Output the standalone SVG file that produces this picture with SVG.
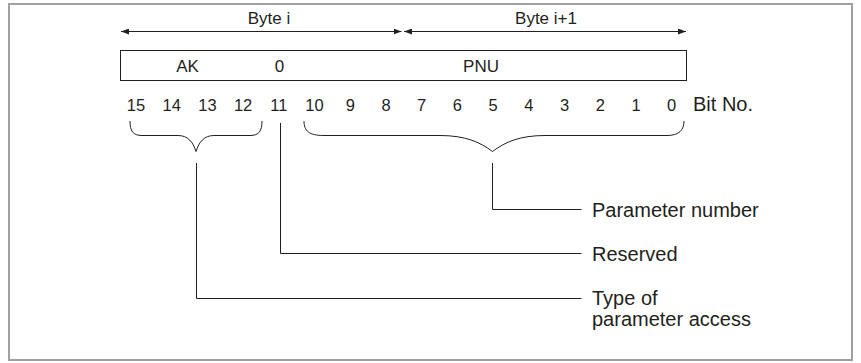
<svg xmlns="http://www.w3.org/2000/svg" width="861" height="363" viewBox="0 0 861 363">
  <style>
    .frame { fill: #ffffff; stroke: #a0a0a0; stroke-width: 2; }
    .box { fill: #ffffff; stroke: #231f20; stroke-width: 1; }
    .ln { fill: none; stroke: #231f20; stroke-width: 1; }
    .t { font-family: "Liberation Sans", Arial, sans-serif; fill: #231f20; }
    .hd { font-size: 17px; text-anchor: middle; }
    .sm { font-size: 16.5px; text-anchor: middle; }
    .lg { font-size: 20px; }
  </style>
  <defs>
    <marker id="arr" viewBox="0 0 8 6" refX="8" refY="3" markerWidth="8" markerHeight="6" markerUnits="userSpaceOnUse" orient="auto-start-reverse">
      <path d="M0,0 L8,3 L0,6 Z" fill="#231f20"/>
    </marker>
  </defs>

  <rect class="frame" x="9" y="4" width="843" height="356"/>

  <!-- byte spans -->
  <g id="byte-i">
    <line class="ln" x1="121" y1="31.5" x2="401.5" y2="31.5" marker-start="url(#arr)" marker-end="url(#arr)"/>
    <text class="t hd" x="269" y="24">Byte i</text>
  </g>
  <g id="byte-i1">
    <line class="ln" x1="404" y1="31.5" x2="686" y2="31.5" marker-start="url(#arr)" marker-end="url(#arr)"/>
    <text class="t hd" x="546" y="24">Byte i+1</text>
  </g>

  <!-- parameter word -->
  <g id="word">
    <rect class="box" x="120.5" y="50.5" width="566" height="30"/>
    <text class="t hd" x="187.5" y="71.5">AK</text>
    <text class="t hd" x="279.5" y="71.5">0</text>
    <text class="t hd" x="481" y="71.5">PNU</text>
  </g>

  <!-- bit numbers -->
  <g id="bits" class="t sm">
    <text x="136" y="111">15</text>
    <text x="171.7" y="111">14</text>
    <text x="207.4" y="111">13</text>
    <text x="243.1" y="111">12</text>
    <text x="278.8" y="111">11</text>
    <text x="314.5" y="111">10</text>
    <text x="350.3" y="111">9</text>
    <text x="386" y="111">8</text>
    <text x="421.7" y="111">7</text>
    <text x="457.4" y="111">6</text>
    <text x="493.1" y="111">5</text>
    <text x="528.8" y="111">4</text>
    <text x="564.5" y="111">3</text>
    <text x="600.3" y="111">2</text>
    <text x="636" y="111">1</text>
    <text x="671.7" y="111">0</text>
  </g>
  <text id="bitno" class="t lg" x="693" y="111">Bit No.</text>

  <!-- braces and leader lines -->
  <g id="connectors">
    <path class="ln" d="M130,121 C130,131 133,135.5 142,135.5 L178,135.5 C188,135.5 193,142 196,151.5 C199,142 204,135.5 214,135.5 L250,135.5 C259,135.5 262,131 262,121"/>
    <path class="ln" d="M304,121 C304,131 309,135.5 324,135.5 L440,135.5 C465,135.5 480,142 492.5,151.5 C505,142 520,135.5 545,135.5 L667,135.5 C679,135.5 684,130 684,121"/>
    <path class="ln" d="M492.5,163 V209.5 H581.5"/>
    <path class="ln" d="M280.5,123 V253.5 H581.5"/>
    <path class="ln" d="M196.5,163 V298.5 H581.5"/>
  </g>

  <g id="label-pnu">
    <text class="t lg" x="592" y="217">Parameter number</text>
  </g>
  <g id="label-reserved">
    <text class="t lg" x="592" y="261">Reserved</text>
  </g>
  <g id="label-ak">
    <text class="t lg" x="592" y="305">Type of<tspan x="592" dy="21">parameter access</tspan></text>
  </g>
</svg>
